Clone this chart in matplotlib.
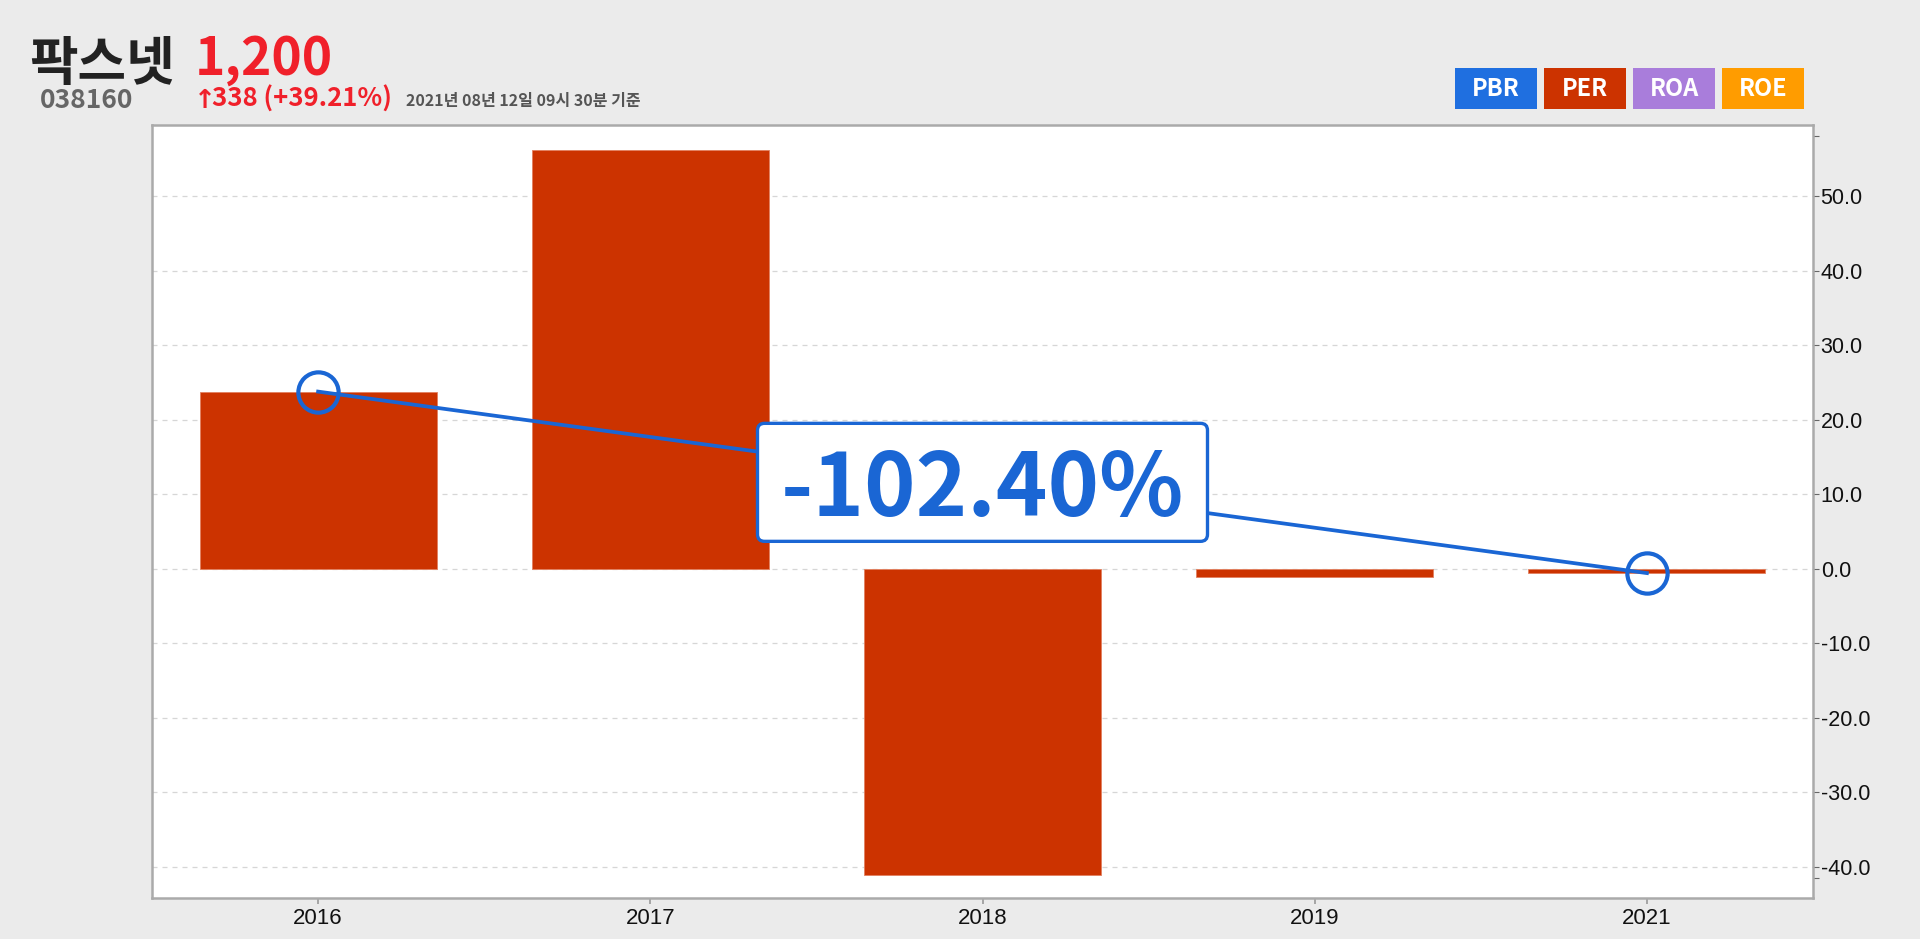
import numpy as np
import matplotlib
matplotlib.use("Agg")
import matplotlib.pyplot as plt
import matplotlib.transforms as mtransforms
from matplotlib.patches import FancyBboxPatch, Rectangle

# data
years = ["2016", "2017", "2018", "2019", "2021"]
per = [23.8, 56.2, -41.1, -1.05, -0.57]
change_label = "-102.40%"
y_ticks = [-40, -30, -20, -10, 0, 10, 20, 30, 40, 50]
edge_ticks = [-41.5, 58.1]
legend_labels = ["PBR", "PER", "ROA", "ROE"]
legend_colors = ["#1f6fe0", "#cc3300", "#a97ddb", "#ff9c00"]

name = "팍스넷"
code = "038160"
price = "1,200"
diff = "338 (+39.21%)"
stamp = "2021년 08년 12일 09시 30분 기준"

W, H = 1920, 939
BG = "#ebebeb"
BLUE = "#1a66d4"
KR = ["Noto Sans CJK KR", "DejaVu Sans"]

plt.rcParams["font.family"] = ["Liberation Sans", "DejaVu Sans"]

fig = plt.figure(figsize=(W / 100, H / 100), dpi=100, facecolor=BG)

def fx(px):
    return px / W

def fy(py):
    return 1 - py / H

ax = fig.add_axes([fx(152), fy(898), (1813 - 152) / W, (898 - 125) / H])
ax.set_facecolor("white")

x = np.arange(len(years))
ax.bar(x, per, width=0.714, color="#cc3300", edgecolor="#e2805f", linewidth=0.6, zorder=2)

# line between first and last value
ax.plot([x[0], x[-1]], [per[0], per[-1]], color=BLUE, lw=2.7, zorder=3,
        marker="o", markersize=29, markerfacecolor="none",
        markeredgecolor=BLUE, markeredgewidth=3.0)

ax.set_xlim(-0.5, len(years) - 0.5)
ax.set_ylim(-44.2, 59.6)
ax.set_xticks(x)
ax.set_xticklabels(years)
ax.yaxis.tick_right()
ax.set_yticks(y_ticks)
ax.set_yticklabels([f"{v:.1f}" for v in y_ticks])
ax.set_yticks(edge_ticks, minor=True)
ax.tick_params(axis="y", which="major", length=4.5, width=0.8, color="#666666",
               pad=1, labelsize=15.5, labelcolor="#111111")
ax.tick_params(axis="y", which="minor", length=4.5, width=0.8, color="#666666")
ax.tick_params(axis="x", length=4, width=1.2, color="#999999", pad=3,
               labelsize=16, labelcolor="#111111")
ax.grid(axis="y", color="#d6d6d6", linestyle=(0, (4, 4)), linewidth=0.9, zorder=0)
ax.set_axisbelow(True)
for s in ax.spines.values():
    s.set_color("#aaaaaa")
    s.set_linewidth(1.8)

# change label box at the middle of the line
mx = (x[0] + x[-1]) / 2
my = (per[0] + per[-1]) / 2
trans = fig.dpi_scale_trans + mtransforms.ScaledTranslation(mx, my, ax.transData)
box = FancyBboxPatch((-2.25, -0.59), 4.5, 1.18, boxstyle="round,pad=0,rounding_size=0.07",
                     transform=trans, facecolor="white", edgecolor=BLUE, linewidth=2.4,
                     zorder=4, clip_on=False)
ax.add_patch(box)
ax.annotate(change_label, (mx, my), xytext=(0, -24), textcoords="offset points",
            ha="center", va="baseline", fontsize=63, fontweight="bold",
            color=BLUE, family=KR, zorder=5)

# header
fig.text(fx(29), fy(80), name, fontsize=38, fontweight="bold", color="#222222", family=KR)
fig.text(fx(195), fy(75), price, fontsize=37, fontweight="bold", color="#f0202a", family=KR)
fig.text(fx(40), fy(108), code, fontsize=19, fontweight="bold", color="#666666", family=KR)
fig.text(fx(194), fy(108), "↑", fontsize=19, fontweight="bold", color="#f0202a",
         family=["DejaVu Sans"])
fig.text(fx(212), fy(107), diff, fontsize=18.5, fontweight="bold", color="#f0202a", family=KR)
fig.text(fx(406), fy(106), stamp, fontsize=11.5, fontweight="bold", color="#555555", family=KR)

# legend boxes
for i, (lab, col) in enumerate(zip(legend_labels, legend_colors)):
    x0 = 1455 + i * 89
    fig.patches.append(Rectangle((fx(x0), fy(109)), 82 / W, 41 / H,
                                 transform=fig.transFigure, facecolor=col, edgecolor="none"))
    fig.text(fx(x0 + 41), fy(96.5), lab, ha="center", va="baseline", fontsize=17,
             fontweight="bold", color="white", family=KR)

fig.savefig("out.png", dpi=100, facecolor=BG)
